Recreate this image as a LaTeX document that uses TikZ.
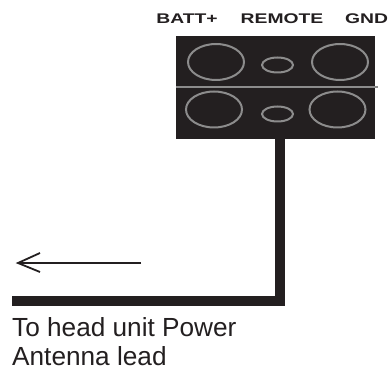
\documentclass[tikz,border=0pt]{standalone}
\usepackage{fontspec}
\setmainfont{Liberation Sans}
\usetikzlibrary{shapes.geometric}
\definecolor{ink}{RGB}{35,31,32}
\definecolor{ringgray}{RGB}{140,140,140}
\newcommand{\termlabel}[1]{\scalebox{1.38}[1]{\bfseries\fontsize{14}{16}\selectfont #1}}
\tikzset{
  ring/.style={draw=ringgray,line width=2pt,fill=none,ellipse},
  wire/.style={draw=ink,line width=10pt,line cap=butt,line join=miter},
  term/.style={text=ink,inner sep=0pt,anchor=base},
  lead/.style={font=\fontsize{26.2}{30}\selectfont,text=ink,inner sep=0pt,anchor=base west},
  pointer/.style={draw=ink,line width=1.8pt}
}
\begin{document}
\begin{tikzpicture}[x=1pt,y=-1pt]
\useasboundingbox (0,0) rectangle (391,371);
\fill[white] (0,0) rectangle (391,371);
\node[draw=none,fill=ink,minimum width=199pt,minimum height=103pt,inner sep=0pt] (block) at (275.5,87.5) {};
\coordinate (divL) at (176,87.5);
\coordinate (divR) at (378,87.5);
\draw[ringgray,line width=2pt] (divL) -- (divR);
\foreach \n/\x/\y/\w/\h in {a/216/62/56/36,b/277.5/65/31/15,c/340/62/56/36,d/214/109.5/56/36,e/277.5/114/31/15,f/337.5/109.5/56/36}{
  \node[ring,minimum width=\w pt,minimum height=\h pt,inner sep=0pt] (\n) at (\x,\y) {};
}
\node[term] (batt) at (187,24) {\termlabel{BATT+}};
\node[term] (remote) at (282,24) {\termlabel{REMOTE}};
\node[term] (gnd) at (366.5,24) {\termlabel{GND}};
\coordinate (wireEnd) at (12,301);
\coordinate (corner) at (280,301);
\draw[wire] (block.south -| corner) -- (corner) -- (wireEnd);
\coordinate (arrowS) at (141,263);
\coordinate (arrowE) at (18,263);
\draw[pointer] (arrowS) -- (arrowE);
\draw[pointer] (40,253) -- (arrowE) -- (40,272);
\node[lead] (l1) at (12,337) {To head unit Power};
\node[lead] (l2) at (12,365.5) {Antenna lead};
\end{tikzpicture}
\end{document}
